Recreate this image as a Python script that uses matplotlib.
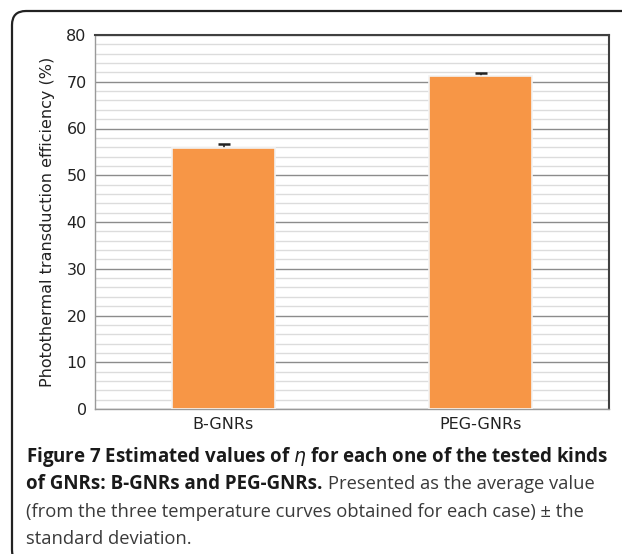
import matplotlib
matplotlib.use("Agg")
import matplotlib.pyplot as plt
import matplotlib.patches as mpatches
import matplotlib.transforms as mtransforms
import numpy as np

# data
categories = ["B-GNRs", "PEG-GNRs"]
efficiency = [55.8, 71.2]
std_dev = [0.8, 0.6]

W, H = 622, 554
fig = plt.figure(figsize=(W / 100, H / 100), dpi=100)

# rounded frame around the figure (open to the right and bottom)
frame = mpatches.FancyBboxPatch((12, -10), 700, (H - 11) + 10,
                                boxstyle="round,pad=0,rounding_size=14",
                                fill=False, edgecolor="#222222", linewidth=1.6,
                                transform=mtransforms.IdentityTransform())
fig.add_artist(frame)

ax = fig.add_axes([95 / W, (H - 409) / H, 514 / W, 374 / H])

x = np.arange(len(categories))
ax.errorbar(x, efficiency, yerr=std_dev, fmt="none", ecolor="#222222",
            elinewidth=1.2, capsize=4.5, capthick=1.8, zorder=2)
ax.bar(x, efficiency, width=0.4, color="#F79646", edgecolor="#f3f3f3",
       linewidth=1.2, zorder=3)

ax.set_xlim(-0.5, 1.5)
ax.set_ylim(0, 80)
ax.set_yticks(np.arange(0, 81, 10))
ax.set_yticks(np.arange(0, 81, 2), minor=True)
ax.grid(True, which="major", axis="y", color="#8c8c8c", linewidth=1.0, zorder=0)
ax.grid(True, which="minor", axis="y", color="#dcdcdc", linewidth=1.0, zorder=0)
ax.set_axisbelow(True)

ax.set_xticks(x)
ax.set_xticklabels(categories)
ax.tick_params(axis="both", length=0, labelsize=11.5, colors="#222222", pad=6)
ax.tick_params(axis="y", which="minor", length=0)

for side in ["top", "right"]:
    ax.spines[side].set_color("#404040")
    ax.spines[side].set_linewidth(1.5)
for side in ["left", "bottom"]:
    ax.spines[side].set_color("#9a9a9a")
    ax.spines[side].set_linewidth(1.0)

ax.set_ylabel("Photothermal transduction efficiency (%)", fontsize=11.5,
              color="#222222", labelpad=8)

# caption
cap_font = ["Open Sans", "DejaVu Sans"]
bold_size = 13.5
reg_size = 13.2
x0 = 26 / W
fig.text(x0, 1 - 457 / H,
         r"Figure 7 Estimated values of $\eta$ for each one of the tested kinds",
         fontsize=bold_size, fontweight="bold", family=cap_font, color="#1a1a1a",
         va="center", ha="left")
t1 = fig.text(x0, 1 - 484 / H, "of GNRs: B-GNRs and PEG-GNRs.",
              fontsize=bold_size, fontweight="bold", family=cap_font,
              color="#1a1a1a", va="center", ha="left")
fig.canvas.draw()
bb = t1.get_window_extent()
fig.text((bb.x1 + 5) / W, 1 - 484 / H, "Presented as the average value",
         fontsize=reg_size, family=cap_font, color="#3a3a3a", va="center", ha="left")
fig.text(x0, 1 - 512 / H,
         "(from the three temperature curves obtained for each case) \u00b1 the",
         fontsize=reg_size, family=cap_font, color="#3a3a3a", va="center", ha="left")
fig.text(x0, 1 - 539 / H, "standard deviation.",
         fontsize=reg_size, family=cap_font, color="#3a3a3a", va="center", ha="left")

fig.savefig("out.png", dpi=100)
